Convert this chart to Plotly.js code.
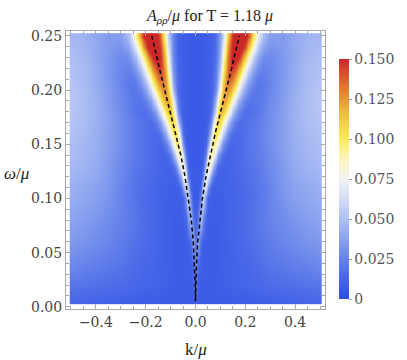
<!DOCTYPE html>
<html>
<head>
<meta charset="utf-8">
<script src="https://cdn.plot.ly/plotly-3.0.1.min.js"></script>
<style>html,body{margin:0;padding:0;background:#fff;}#plot{width:407px;height:360px;}</style>
</head>
<body>
<div id="plot"></div>
<script>
// k/mu sample columns (k >= 0; the map is mirror-symmetric in k)
const kCols = [0,0.01,0.02,0.03,0.04,0.05,0.06,0.07,0.08,0.09,0.10,0.11,0.12,0.13,0.14,0.15,0.16,0.17,0.18,0.19,0.20,0.21,0.22,0.23,0.24,0.25,0.27,0.30,0.35,0.40,0.45,0.49,0.50];
// omega/mu sample rows
const omegaRows = [0.005,0.01,0.02,0.04,0.06,0.08,0.10,0.11,0.12,0.13,0.14,0.15,0.16,0.17,0.18,0.19,0.20,0.21,0.22,0.23,0.24,0.245,0.25];
// A_rho_rho/mu, one row per omega, one value per k column
const aRow005 = [.010,.008,.007,.007,.007,.007,.007,.007,.007,.007,.007,.007,.007,.007,.007,.008,.008,.008,.008,.008,.008,.008,.008,.008,.009,.009,.009,.010,.011,.012,.013,.014,.014];
const aRow010 = [.015,.008,.007,.007,.007,.007,.007,.007,.007,.007,.008,.008,.008,.008,.008,.008,.009,.009,.009,.009,.009,.010,.010,.010,.010,.011,.011,.012,.013,.014,.015,.016,.016];
const aRow020 = [.022,.009,.008,.008,.008,.008,.008,.008,.008,.009,.009,.009,.010,.010,.010,.011,.011,.011,.012,.012,.012,.013,.013,.013,.014,.014,.015,.016,.017,.018,.019,.020,.020];
const aRow040 = [.032,.016,.009,.008,.008,.008,.008,.008,.008,.008,.009,.009,.010,.010,.011,.011,.012,.012,.013,.013,.014,.014,.015,.016,.016,.017,.018,.020,.022,.024,.026,.028,.028];
const aRow060 = [.018,.042,.016,.010,.008,.008,.008,.008,.008,.008,.009,.009,.010,.011,.011,.012,.013,.013,.014,.015,.015,.016,.017,.018,.018,.019,.021,.023,.026,.029,.032,.034,.034];
const aRow080 = [.009,.022,.052,.028,.013,.009,.008,.008,.008,.008,.009,.009,.010,.011,.012,.012,.013,.014,.015,.016,.016,.017,.018,.019,.020,.021,.022,.025,.029,.033,.036,.038,.038];
const aRow100 = [.007,.008,.027,.066,.031,.012,.009,.009,.009,.009,.009,.010,.010,.011,.011,.012,.013,.013,.014,.015,.015,.016,.017,.018,.019,.020,.022,.026,.032,.037,.040,.042,.042];
const aRow110 = [.007,.007,.012,.055,.069,.035,.015,.010,.009,.009,.009,.010,.010,.011,.011,.012,.013,.014,.014,.015,.016,.017,.018,.018,.019,.020,.022,.026,.033,.038,.041,.043,.043];
const aRow120 = [.007,.007,.008,.024,.079,.070,.039,.020,.012,.010,.010,.010,.011,.011,.012,.012,.013,.014,.015,.016,.017,.018,.018,.019,.020,.021,.023,.027,.034,.040,.043,.045,.045];
const aRow130 = [.006,.007,.007,.012,.048,.089,.076,.049,.027,.016,.012,.011,.011,.012,.012,.013,.014,.015,.016,.017,.018,.018,.019,.020,.021,.022,.024,.028,.035,.041,.045,.047,.047];
const aRow140 = [.006,.006,.007,.009,.022,.067,.095,.083,.060,.036,.023,.016,.013,.012,.012,.013,.014,.015,.016,.017,.018,.019,.020,.021,.022,.023,.025,.029,.036,.042,.046,.048,.048];
const aRow150 = [.006,.006,.007,.007,.011,.032,.077,.100,.091,.072,.049,.031,.023,.017,.014,.013,.014,.015,.016,.017,.018,.019,.020,.021,.022,.023,.026,.030,.037,.043,.047,.049,.049];
const aRow160 = [.006,.006,.006,.007,.009,.018,.048,.088,.105,.098,.081,.060,.042,.030,.021,.017,.015,.015,.016,.017,.018,.019,.020,.021,.022,.023,.026,.030,.037,.043,.048,.050,.050];
const aRow170 = [.006,.006,.006,.007,.008,.012,.024,.056,.093,.110,.105,.090,.072,.053,.038,.028,.021,.018,.016,.017,.018,.019,.020,.021,.022,.023,.026,.030,.037,.044,.049,.051,.051];
const aRow180 = [.006,.006,.006,.007,.008,.010,.016,.032,.064,.101,.116,.113,.101,.085,.066,.049,.036,.029,.022,.020,.017,.017,.018,.019,.020,.021,.024,.029,.037,.044,.049,.052,.052];
const aRow190 = [.006,.006,.006,.007,.008,.009,.013,.022,.045,.080,.108,.122,.120,.111,.097,.079,.062,.047,.036,.029,.023,.021,.019,.019,.020,.021,.023,.028,.036,.044,.049,.052,.052];
const aRow200 = [.006,.006,.006,.007,.008,.009,.011,.016,.028,.052,.088,.115,.127,.127,.120,.108,.092,.076,.060,.047,.037,.031,.025,.023,.021,.020,.022,.027,.035,.043,.049,.052,.052];
const aRow210 = [.006,.006,.006,.007,.008,.009,.011,.015,.024,.041,.072,.102,.125,.136,.136,.131,.118,.104,.086,.070,.056,.044,.036,.030,.025,.023,.022,.026,.034,.042,.048,.051,.051];
const aRow220 = [.006,.006,.006,.007,.008,.009,.010,.014,.021,.034,.058,.090,.117,.136,.146,.146,.140,.128,.114,.097,.081,.065,.052,.042,.035,.029,.025,.027,.034,.042,.048,.050,.050];
const aRow230 = [.006,.006,.006,.007,.008,.009,.010,.013,.019,.030,.050,.080,.108,.131,.147,.157,.157,.152,.140,.125,.108,.091,.075,.061,.049,.041,.030,.028,.034,.041,.047,.049,.049];
const aRow240 = [.006,.006,.006,.007,.008,.009,.010,.012,.018,.028,.045,.068,.098,.123,.142,.158,.167,.167,.162,.151,.137,.120,.101,.085,.069,.055,.040,.032,.035,.041,.046,.048,.048];
const aRow245 = [.006,.006,.006,.007,.008,.009,.010,.012,.017,.027,.042,.062,.092,.117,.137,.154,.166,.171,.168,.161,.148,.132,.114,.097,.080,.064,.045,.034,.035,.041,.046,.047,.047];
const aRow250 = [.006,.006,.006,.007,.008,.009,.010,.012,.017,.026,.040,.058,.086,.110,.132,.150,.165,.174,.174,.170,.159,.144,.126,.108,.090,.073,.050,.036,.035,.040,.045,.046,.046];
const aRows = [aRow005,aRow010,aRow020,aRow040,aRow060,aRow080,aRow100,aRow110,aRow120,aRow130,aRow140,aRow150,aRow160,aRow170,aRow180,aRow190,aRow200,aRow210,aRow220,aRow230,aRow240,aRow245,aRow250];

// dashed dispersion curve (right branch; left branch is its mirror)
const curveOmega = [0.005,0.02,0.04,0.06,0.08,0.10,0.12,0.14,0.16,0.18,0.20,0.22,0.235,0.245,0.25];
const curveK     = [0.0,0.001,0.004,0.009,0.017,0.028,0.042,0.059,0.079,0.101,0.124,0.145,0.160,0.170,0.176];

// colour-bar ticks
const cbTickVals = [0,0.025,0.05,0.075,0.10,0.125,0.15];
const cbTickText = ['0','0.025','0.050','0.075','0.100','0.125','0.150'];

// build the mirrored grid
const xFull = kCols.slice(1).reverse().map(v => -v).concat(kCols);
const zFull = aRows.map(r => r.slice(1).reverse().concat(r));

const lineX = curveK.slice().reverse().map(v => -v).concat(curveK);
const lineY = curveOmega.slice().reverse().concat(curveOmega);

const serif = 'Liberation Serif';
const tickSerif = 'DejaVu Serif';

const heat = {
  type: 'heatmap',
  x: xFull, y: omegaRows, z: zFull,
  zmin: 0, zmax: 0.15, zsmooth: 'best',
  hoverinfo: 'skip',
  colorscale: [
    [0, 'rgb(46,80,230)'], [0.1, 'rgb(75,105,232)'], [0.2, 'rgb(115,143,236)'],
    [0.3, 'rgb(160,180,242)'], [0.4, 'rgb(205,215,247)'], [0.5, 'rgb(243,243,242)'],
    [0.58, 'rgb(250,245,190)'], [0.67, 'rgb(250,235,90)'], [0.78, 'rgb(238,185,60)'],
    [0.88, 'rgb(225,120,50)'], [1, 'rgb(205,40,40)']
  ],
  colorbar: {
    thickness: 10, thicknessmode: 'pixels', len: 240, lenmode: 'pixels',
    x: 1.0556, xanchor: 'left', xpad: 0, y: 0.4676, yanchor: 'middle', ypad: 0,
    outlinewidth: 0, ticks: 'outside', ticklen: 3, tickcolor: '#999',
    tickvals: cbTickVals, ticktext: cbTickText,
    tickfont: {family: tickSerif, size: 14, color: '#555'}
  }
};

const curve = {
  type: 'scatter', mode: 'lines', x: lineX, y: lineY,
  line: {color: '#000', width: 1.5, dash: '4px,3px'},
  hoverinfo: 'skip', showlegend: false
};

function axisBase() {
  return {
    showgrid: false, zeroline: false, showline: true, linecolor: '#aaa', linewidth: 1,
    mirror: 'ticks', ticks: 'inside', ticklen: 5, tickcolor: '#aaa',
    tickfont: {family: tickSerif, size: 14, color: '#444'}
  };
}

const layout = {
  width: 407, height: 360,
  font: {family: serif, size: 16, color: '#444'},
  margin: {l: 66, r: 71, t: 31, b: 51},
  paper_bgcolor: '#fff', plot_bgcolor: '#fff',
  showlegend: false,
  title: {
    text: '<i>A</i><sub><i>ρρ</i></sub>/<i>μ</i> for T = 1.18 <i>μ</i>',
    x: 0.516, xanchor: 'center', xref: 'container',
    y: 0.958, yanchor: 'middle', yref: 'container',
    font: {family: serif, size: 16, color: '#222'}
  },
  xaxis: Object.assign(axisBase(), {
    range: [-0.52, 0.52], tickvals: [-0.4,-0.2,0,0.2,0.4], tickformat: '.1f',
    minor: {dtick: 0.05, tick0: 0, ticks: 'inside', ticklen: 3, tickcolor: '#aaa'}
  }),
  yaxis: Object.assign(axisBase(), {
    range: [-0.002, 0.2545], tickvals: [0,0.05,0.10,0.15,0.20,0.25], tickformat: '.2f',
    minor: {dtick: 0.01, tick0: 0, ticks: 'inside', ticklen: 3, tickcolor: '#aaa'}
  }),
  annotations: [
    {xref: 'x', yref: 'paper', x: 0, y: -0.147, xanchor: 'center', yanchor: 'middle',
     showarrow: false, text: 'k/<i>μ</i>', font: {family: serif, size: 17, color: '#222'}},
    {xref: 'paper', yref: 'paper', x: -0.193, y: 0.489, xanchor: 'center', yanchor: 'middle',
     showarrow: false, text: '<i>ω</i>/<i>μ</i>', font: {family: serif, size: 17, color: '#222'}}
  ]
};

Plotly.newPlot('plot', [heat, curve], layout, {displayModeBar: false, staticPlot: true});
</script>
</body>
</html>
